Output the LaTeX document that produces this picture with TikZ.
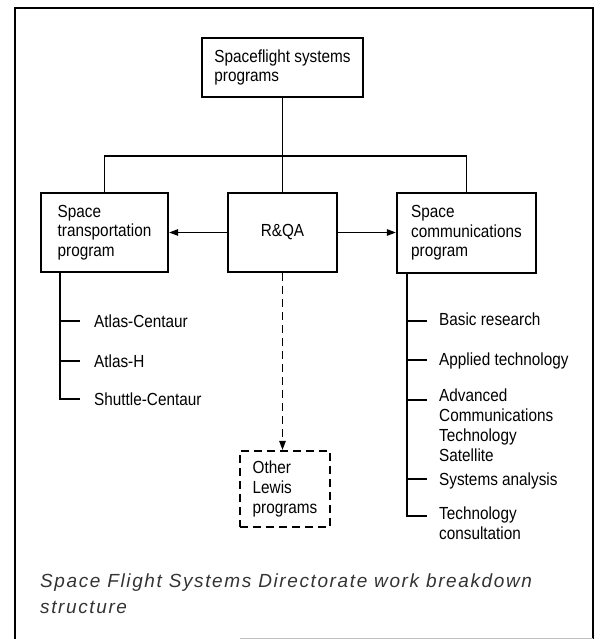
\documentclass[tikz,border=0pt]{standalone}
\usepackage{fontspec}
\setmainfont{Liberation Sans}
\newfontfamily\chartfont{Liberation Sans}[FakeStretch=0.875]
\newfontfamily\captionfont{Liberation Sans}[LetterSpace=8.5]
\usetikzlibrary{arrows.meta}
\tikzset{
  frame/.style={line width=2.6pt, line cap=butt},
  lbl/.style={font=\chartfont\fontsize{17.5}{19.7}\selectfont, inner sep=0pt, align=left},
  box/.style={draw, line width=2.3pt, lbl},
  dbox/.style={draw, line width=2.2pt, dash pattern=on 8pt off 5pt, lbl},
  conn/.style={line width=1.3pt},
  tip/.style={-{Triangle[length=9pt,width=6.5pt]}},
  item/.style={lbl, anchor=base west},
  caption/.style={font=\captionfont\itshape\fontsize{19}{26}\selectfont, text=black!80,
                  inner sep=0pt, align=left, anchor=base west}
}
\begin{document}
\begin{tikzpicture}[x=1pt,y=-1pt]
\useasboundingbox (0,0) rectangle (600,639);

% outer frame
\draw[frame] (15,639) -- (15,8) -- (593,8) -- (593,639);
\draw[black!25, line width=0.8pt] (240,638.5) -- (593,638.5);

% boxes
\node[box, minimum width=161pt, minimum height=59pt] (top) at (282.5,67.5) {Spaceflight systems\\programs};
\node[box, minimum width=127pt, minimum height=79pt] (stp) at (104.5,232.5) {Space\\transportation\\program};
\node[box, minimum width=109pt, minimum height=79pt] (qa) at (282.5,232.5) {R\&QA};
\node[box, minimum width=139pt, minimum height=80pt] (scp) at (466.5,233) {Space\\communications\\program};
\node[dbox, minimum width=90pt, minimum height=76pt] (other) at (285,489) {Other\\Lewis\\programs};

% hierarchy connectors
\coordinate (bus) at (282.5,156);
\draw[conn] (top.south) -- (qa.north);
\draw[conn] (stp.north) |- (bus) -| (scp.north);
\draw[conn, tip] (qa.west) -- (stp.east);
\draw[conn, tip] (qa.east) -- (qa.east -| scp.west);
\draw[conn, tip, dash pattern=on 8pt off 5pt] (qa.south) -- (qa.south |- other.north);

% transportation program tree
\coordinate (lt) at (60,272);
\coordinate (l1) at (60,321);
\coordinate (l2) at (60,361);
\coordinate (l3) at (60,399);
\draw[conn] (lt) -- (l3) -- ++(20,0);
\draw[conn] (l1) -- ++(20,0);
\draw[conn] (l2) -- ++(20,0);
\node[item] (ac) at (94,327) {Atlas-Centaur};
\node[item] (ah) at (94,367) {Atlas-H};
\node[item] (sc) at (94,405) {Shuttle-Centaur};

% communications program tree (multi-line labels sit on their last baseline)
\coordinate (rt) at (407,273);
\coordinate (r1) at (407,321);
\coordinate (r2) at (407,360);
\coordinate (r3) at (407,400);
\coordinate (r4) at (407,479);
\coordinate (r5) at (407,516);
\draw[conn] (rt) -- (r5) -- ++(20,0);
\foreach \t in {r1,r2,r3,r4} \draw[conn] (\t) -- ++(20,0);
\node[item] (br) at (439,325) {Basic research};
\node[item] (at) at (439,365) {Applied technology};
\node[item] (acts) at (439,461) {Advanced\\Communications\\Technology\\Satellite};
\node[item] (sa) at (439,485) {Systems analysis};
\node[item] (tc) at (439,539) {Technology\\consultation};

% caption
\node[caption] (cap) at (40,613) {Space Flight Systems Directorate work breakdown\\structure};
\end{tikzpicture}
\end{document}
